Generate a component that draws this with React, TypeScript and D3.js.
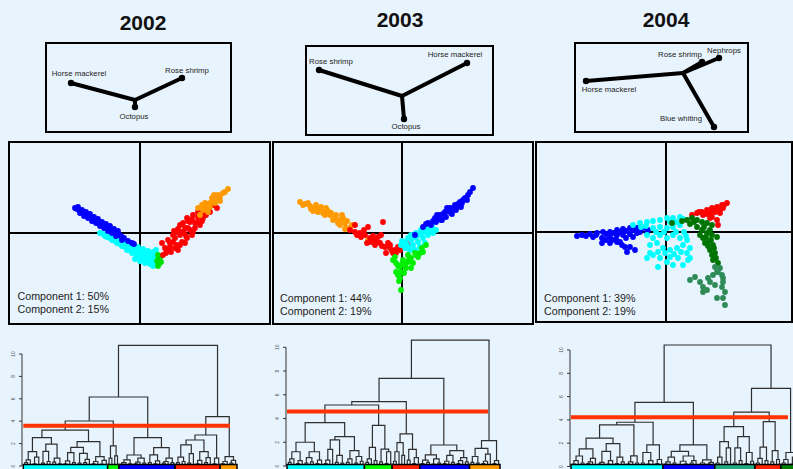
import React from "react";
import * as d3 from "d3";

// ---------------- DATA ----------------
const years = ["2002", "2003", "2004"];
const comp1 = [50, 44, 39];
const comp2 = [15, 19, 19];

// Loadings (biplot arrows) per year
const load2002 = [
  { name: "Horse mackerel", x: -0.64, y: 0.17 },
  { name: "Rose shrimp", x: 0.47, y: 0.22 },
  { name: "Octopus", x: 0.0, y: -0.07 },
];
const load2003 = [
  { name: "Rose shrimp", x: -0.83, y: 0.26 },
  { name: "Horse mackerel", x: 0.65, y: 0.33 },
  { name: "Octopus", x: 0.02, y: -0.23 },
];
const load2004 = [
  { name: "Horse mackerel", x: -0.97, y: -0.08 },
  { name: "Rose shrimp", x: 0.19, y: 0.11 },
  { name: "Nephrops", x: 0.36, y: 0.15 },
  { name: "Blue whiting", x: 0.31, y: -0.54 },
];

// PCA scores (Component 1, Component 2) per cluster
const s2002Cyan: [number, number][] = [
  [-0.4, 0.0], [-0.35, -0.03], [-0.3, -0.05], [-0.25, -0.08], [-0.2, -0.11], [-0.15, -0.14], [-0.1, -0.17], [-0.05, -0.2], [0.0, -0.22], [0.05, -0.24], [0.1, -0.26], [0.15, -0.28],
  [-0.32, 0.01], [-0.27, -0.02], [-0.22, -0.05], [-0.17, -0.07], [-0.12, -0.1], [-0.07, -0.12], [-0.02, -0.14], [0.03, -0.16], [0.08, -0.18], [0.13, -0.19], [0.16, -0.17],
  [-0.28, -0.07], [-0.23, -0.1], [-0.18, -0.13], [-0.13, -0.17], [-0.08, -0.2], [-0.03, -0.23], [0.02, -0.26], [0.07, -0.29], [0.12, -0.3], [0.16, -0.32],
  [-0.37, -0.01], [-0.33, -0.04], [-0.29, -0.02], [-0.2, -0.08], [-0.15, -0.1], [-0.1, -0.13], [-0.05, -0.16], [0.0, -0.18], [0.05, -0.2], [0.1, -0.22], [0.14, -0.24], [-0.25, -0.05], [-0.05, -0.26], [0.0, -0.28], [0.05, -0.3], [0.1, -0.31], [0.13, -0.33],
];
const s2002Blue: [number, number][] = [
  [-0.65, 0.25], [-0.63, 0.24], [-0.61, 0.23], [-0.59, 0.21], [-0.57, 0.21], [-0.55, 0.19], [-0.53, 0.18], [-0.51, 0.17], [-0.49, 0.15], [-0.47, 0.14], [-0.45, 0.13], [-0.43, 0.12], [-0.41, 0.11], [-0.39, 0.09], [-0.37, 0.08], [-0.35, 0.07], [-0.33, 0.05], [-0.31, 0.04], [-0.29, 0.03], [-0.27, 0.02], [-0.25, 0.0], [-0.23, -0.01], [-0.21, -0.02], [-0.19, -0.03],
  [-0.62, 0.26], [-0.58, 0.23], [-0.54, 0.21], [-0.5, 0.19], [-0.46, 0.16], [-0.42, 0.14], [-0.38, 0.11], [-0.34, 0.09], [-0.3, 0.07], [-0.26, 0.04], [-0.22, 0.02],
  [-0.6, 0.2], [-0.56, 0.17], [-0.52, 0.15], [-0.48, 0.12], [-0.44, 0.1], [-0.4, 0.07], [-0.36, 0.05], [-0.32, 0.02], [-0.28, 0.0], [-0.24, -0.03],
  [-0.16, -0.05], [-0.12, -0.08], [-0.08, -0.1], [-0.06, -0.11], [-0.18, -0.07],
];
const s2002Green: [number, number][] = [
  [0.18, -0.22], [0.19, -0.25], [0.2, -0.28], [0.19, -0.31], [0.18, -0.33], [0.21, -0.23], [0.21, -0.29], [0.17, -0.28],
];
const s2002Red: [number, number][] = [
  [0.22, -0.1], [0.27, -0.17], [0.33, -0.02], [0.4, 0.08], [0.47, 0.15], [0.53, 0.18], [0.6, 0.2], [0.67, 0.25], [0.73, 0.28], [0.77, 0.25], [0.37, -0.12], [0.47, -0.05], [0.53, 0.01], [0.6, 0.08], [0.3, -0.14], [0.23, -0.22], [0.42, 0.01], [0.48, 0.05], [0.57, 0.11], [0.63, 0.15], [0.52, -0.02], [0.45, -0.1], [0.37, 0.01], [0.33, -0.09], [0.5, 0.11], [0.58, 0.16], [0.42, -0.09], [0.38, -0.17], [0.25, -0.15], [0.28, -0.07], [0.55, 0.05], [0.45, 0.05], [0.65, 0.2], [0.7, 0.21],
  [0.3, -0.1], [0.35, -0.05], [0.4, -0.02], [0.44, 0.0], [0.5, 0.03], [0.55, 0.1], [0.62, 0.12], [0.66, 0.18], [0.4, -0.12], [0.35, -0.15], [0.31, -0.19], [0.26, -0.2], [0.43, 0.1], [0.38, 0.04], [0.48, 0.12], [0.52, 0.14], [0.58, 0.21], [0.68, 0.28], [0.34, 0.02], [0.46, -0.03],
];
const s2002Orange: [number, number][] = [
  [0.58, 0.25], [0.6, 0.18], [0.63, 0.23], [0.67, 0.26], [0.7, 0.3], [0.73, 0.31], [0.77, 0.35], [0.8, 0.36], [0.83, 0.4], [0.88, 0.44], [0.65, 0.3], [0.72, 0.35], [0.78, 0.38], [0.68, 0.21], [0.62, 0.28], [0.7, 0.26], [0.75, 0.3], [0.8, 0.32], [0.85, 0.41], [0.74, 0.38],
];

const s2003Orange: [number, number][] = [
  [-1.02, 0.31], [-0.97, 0.29], [-0.92, 0.27], [-0.87, 0.25], [-0.82, 0.23], [-0.77, 0.21], [-0.72, 0.18], [-0.67, 0.15], [-0.62, 0.13], [-0.57, 0.1], [-0.52, 0.05], [-0.81, 0.26], [-0.76, 0.25], [-0.71, 0.2], [-0.66, 0.18], [-0.59, 0.15], [-0.91, 0.24], [-0.84, 0.21], [-0.77, 0.18], [-0.69, 0.13], [-0.62, 0.08], [-0.56, 0.05], [-0.42, -0.02], [-0.34, -0.07],
  [-0.99, 0.28], [-0.94, 0.3], [-0.89, 0.22], [-0.86, 0.28], [-0.79, 0.2], [-0.74, 0.22], [-0.64, 0.1], [-0.6, 0.18], [-0.55, 0.12], [-0.5, 0.08], [-0.57, 0.04],
];
const s2003Red: [number, number][] = [
  [-0.52, 0.03], [-0.47, 0.01], [-0.42, 0.0], [-0.37, -0.02], [-0.32, -0.05], [-0.27, -0.07], [-0.22, -0.1], [-0.17, -0.14], [-0.12, -0.15], [-0.07, -0.17], [-0.02, -0.17], [-0.01, -0.14], [-0.47, 0.08], [-0.34, 0.06], [-0.19, 0.11], [-0.21, -0.02], [-0.27, -0.12], [-0.16, -0.2], [-0.09, -0.2], [-0.41, -0.04], [-0.31, -0.09], [-0.24, -0.04], [-0.14, -0.1], [-0.06, -0.2], [0.04, -0.09], [0.06, -0.12],
  [-0.45, -0.02], [-0.38, 0.03], [-0.35, -0.1], [-0.29, -0.03], [-0.25, -0.09], [-0.2, -0.13], [-0.12, -0.12], [-0.1, -0.18], [-0.04, -0.14],
];
const s2003Cyan: [number, number][] = [
  [-0.01, -0.12], [0.03, -0.09], [0.06, -0.05], [0.09, -0.02], [0.14, 0.0], [0.19, 0.03], [0.24, 0.05], [0.29, 0.05], [0.34, 0.03], [0.06, -0.15], [0.11, -0.12], [0.16, -0.09], [0.21, -0.05], [0.26, -0.02], [0.31, 0.0], [0.13, -0.17], [0.18, -0.14], [0.23, -0.1], [0.09, -0.07], [0.14, -0.04], [0.19, -0.01], [0.24, 0.01], [0.03, -0.15],
  [0.0, -0.08], [0.05, -0.12], [0.11, -0.05], [0.16, -0.02], [0.21, 0.01], [0.27, 0.03], [0.3, 0.07], [0.08, -0.17],
];
const s2003Blue: [number, number][] = [
  [0.21, 0.06], [0.26, 0.1], [0.31, 0.12], [0.36, 0.15], [0.41, 0.19], [0.46, 0.22], [0.51, 0.25], [0.56, 0.29], [0.61, 0.33], [0.66, 0.38], [0.71, 0.45], [0.68, 0.41], [0.29, 0.08], [0.34, 0.11], [0.39, 0.13], [0.44, 0.16], [0.49, 0.2], [0.54, 0.23], [0.59, 0.26], [0.33, 0.15], [0.38, 0.18], [0.43, 0.21], [0.48, 0.25], [0.53, 0.28], [0.58, 0.31], [0.63, 0.35], [0.13, -0.02],
  [0.24, 0.09], [0.35, 0.18], [0.45, 0.25], [0.55, 0.26], [0.4, 0.13], [0.5, 0.19], [0.6, 0.3], [0.65, 0.33],
];
const s2003Green: [number, number][] = [
  [-0.09, -0.27], [-0.06, -0.3], [-0.02, -0.34], [-0.01, -0.39], [-0.02, -0.45], [-0.01, -0.57], [0.03, -0.32], [0.06, -0.29], [0.09, -0.25], [0.14, -0.22], [0.21, -0.19], [0.24, -0.12], [0.04, -0.35], [0.09, -0.35], [-0.06, -0.39], [-0.04, -0.42], [0.01, -0.27], [0.06, -0.22], [0.13, -0.2], [-0.07, -0.24], [0.18, -0.2],
  [-0.04, -0.33], [0.0, -0.31], [0.07, -0.27], [0.11, -0.3], [0.02, -0.4], [-0.03, -0.48], [0.16, -0.24], [0.2, -0.15],
];

const s2004Blue: [number, number][] = [
  [-0.89, -0.04], [-0.84, -0.03], [-0.76, -0.02], [-0.69, -0.01], [-0.63, 0.0], [-0.56, 0.0], [-0.49, 0.02], [-0.43, 0.03], [-0.36, 0.04], [-0.29, 0.04], [-0.23, 0.04], [-0.18, 0.02], [-0.73, -0.05], [-0.64, -0.06], [-0.56, -0.05], [-0.49, -0.03], [-0.43, -0.03], [-0.36, -0.02], [-0.29, -0.01], [-0.64, -0.11], [-0.56, -0.11], [-0.49, -0.1], [-0.44, -0.13], [-0.39, -0.2], [-0.36, -0.15], [-0.31, -0.18], [-0.54, -0.08], [-0.26, 0.0], [-0.19, -0.01],
  [-0.8, -0.04], [-0.7, -0.03], [-0.6, -0.02], [-0.52, -0.01], [-0.46, 0.0], [-0.4, 0.01], [-0.33, 0.02], [-0.6, -0.08], [-0.5, -0.07], [-0.4, -0.06], [-0.33, -0.05], [-0.46, -0.1], [-0.41, -0.15],
];
const s2004Cyan: [number, number][] = [
  [-0.33, 0.07], [-0.26, 0.09], [-0.19, 0.1], [-0.13, 0.11], [-0.06, 0.12], [0.01, 0.14], [0.07, 0.14], [0.14, 0.15], [0.17, 0.13], [-0.13, 0.04], [-0.06, 0.05], [0.01, 0.04], [0.07, 0.05], [0.14, 0.07], [-0.19, -0.03], [-0.13, -0.06], [-0.06, -0.03], [0.01, -0.06], [0.07, -0.03], [0.14, -0.06], [0.21, -0.08], [-0.16, -0.13], [-0.09, -0.11], [-0.03, -0.16], [0.04, -0.18], [0.11, -0.16], [0.17, -0.13], [0.24, -0.16], [-0.19, -0.26], [-0.13, -0.23], [-0.06, -0.26], [-0.08, -0.35], [0.01, -0.3], [0.07, -0.33], [0.17, -0.33], [0.22, -0.28], [0.12, -0.26], [0.04, -0.25], [-0.01, -0.21], [0.21, -0.21], [0.24, -0.26], [-0.16, -0.21],
  [-0.25, 0.05], [-0.2, 0.06], [0.04, 0.1], [0.1, 0.1], [-0.1, 0.0], [-0.02, 0.0], [0.1, 0.0], [0.18, 0.0], [-0.08, -0.2], [0.08, -0.22], [0.15, -0.2], [0.2, -0.04],
];
const s2004Red: [number, number][] = [
  [0.26, 0.17], [0.31, 0.19], [0.36, 0.2], [0.41, 0.22], [0.46, 0.24], [0.51, 0.25], [0.56, 0.27], [0.61, 0.29], [0.37, 0.17], [0.44, 0.19], [0.49, 0.2], [0.54, 0.22], [0.46, 0.15], [0.51, 0.12], [0.52, 0.07], [0.44, 0.14], [0.57, 0.24],
  [0.33, 0.2], [0.4, 0.18], [0.48, 0.22], [0.58, 0.27], [0.54, 0.19],
];
const s2004DarkGreen: [number, number][] = [
  [0.16, 0.11], [0.21, 0.12], [0.26, 0.14], [0.31, 0.12], [0.36, 0.1], [0.41, 0.09], [0.46, 0.07], [0.31, 0.05], [0.36, 0.02], [0.41, -0.01], [0.46, -0.03], [0.37, -0.06], [0.42, -0.1], [0.47, -0.13], [0.44, -0.18], [0.49, -0.21], [0.47, -0.28], [0.52, -0.31], [0.39, -0.11], [0.51, -0.05], [0.06, 0.09], [0.24, 0.08], [0.34, -0.03], [0.46, -0.23],
  [0.28, 0.1], [0.38, 0.05], [0.44, 0.02], [0.4, -0.05], [0.45, -0.08], [0.48, -0.16], [0.42, -0.14], [0.5, -0.26],
];
const s2004SeaGreen: [number, number][] = [
  [0.24, -0.48], [0.29, -0.45], [0.34, -0.5], [0.37, -0.55], [0.41, -0.58], [0.44, -0.5], [0.49, -0.53], [0.47, -0.43], [0.51, -0.4], [0.54, -0.36], [0.56, -0.43], [0.57, -0.5], [0.56, -0.55], [0.59, -0.6], [0.57, -0.66], [0.59, -0.73], [0.51, -0.66], [0.52, -0.4], [0.49, -0.35], [0.37, -0.6], [0.42, -0.46], [0.57, -0.46],
];

// Dendrograms (binary trees, "o" = observation, number after ")" = merge height)
const d02CyA1 = "(((o,o)0.3,o)0.55,((o,o)0.2,o)0.8)1.28";
const d02CyA2 = "(((o,o)0.25,(o,o)0.4)1.3,((o,o)0.35,(o,o)0.2)0.7)1.96";
const d02CyB1a = "(((o,o)0.2,o)0.45,(o,o)0.3)1.19";
const d02CyB1b = "((o,o)0.25,((o,o)0.3,o)0.6)1.13";
const d02CyB2 = "(((o,o)0.2,o)0.4,((o,o)0.15,o)0.5)0.83";
const d02Cyan = `((${d02CyA1},${d02CyA2})2.53,((${d02CyB1a},${d02CyB1b})1.67,${d02CyB2})2.17)3.21`;
const d02Green = "((o,o)0.7,(o,o)0.9)1.79";
const d02Bl1 = "((((o,o)0.15,o)0.3,(o,o)0.2)0.55,(((o,o)0.2,o)0.35,(o,o)0.25)0.7)0.98";
const d02Bl2 = "(((o,o)0.3,((o,o)0.2,o)0.45)1.0,(((o,o)0.25,o)0.4,(o,o)0.3)0.7)1.64";
const d02Blue = `(${d02Bl1},${d02Bl2})2.53`;
const d02R1a = "(((o,o)0.3,(o,o)0.4)0.8,((o,o)0.25,o)1.1)1.88";
const d02R1b = "(((o,o)0.2,o)0.5,((o,o)0.3,o)0.75)1.28";
const d02R2 = "((o,o)0.2,o)0.7";
const d02Red = `((${d02R1a},${d02R1b})2.32,${d02R2})2.77`;
const d02Orange = "(((o,o)0.2,o)0.4,((o,o)0.25,o)0.5)0.83";

const d03C1a = "(((o,o)0.3,o)0.6,((o,o)0.2,o)0.45)1.2";
const d03C1b = "(((o,o)0.25,(o,o)0.35)0.7,((o,o)0.2,o)0.5)1.2";
const d03C2a = "((((o,o)0.2,o)0.5,o)1.4,((o,o)0.3,(o,o)0.25)0.9)2.2";
const d03C2b = "(((o,o)0.3,o)0.6,((o,o)0.25,(o,o)0.4)0.8)1.3";
const d03Cyan = `((${d03C1a},${d03C1b})2.0,(${d03C2a},${d03C2b})2.47)3.65`;
const d03G1 = "(((o,o)0.3,o)0.6,(o,o)0.45)1.57";
const d03G2 = "((o,o)0.35,((o,o)0.2,o)1.2)1.43";
const d03Green = `(${d03G1},${d03G2})3.43`;
const d03Rd1 = "(((o,o)0.4,o)1.2,(o,o)0.9)1.97";
const d03Rd2 = "((o,o)0.5,((o,o)0.2,o)0.7)1.4";
const d03Red = `(${d03Rd1},${d03Rd2})2.7`;
const d03B1 = "(((o,o)0.2,(o,o)0.3)0.5,((o,o)0.15,(o,o)0.25)0.6)0.93";
const d03B2 = "((((o,o)0.2,o)0.4,(o,o)0.3)0.9,(((o,o)0.2,o)0.45,(o,o)0.35)0.7)1.29";
const d03Blue = `(${d03B1},${d03B2})1.77`;
const d03O1 = "(((o,o)0.3,(o,o)0.25)0.8,(((o,o)0.2,o)0.4,o)1.0)1.49";
const d03O2 = "((o,o)0.2,o)0.45";
const d03Orange = `(${d03O1},${d03O2})2.13`;

const d04Cy1a1 = "((((o,o)0.2,o)0.5,(o,o)0.3)0.9,(((o,o)0.25,o)0.4,o)0.7)1.51";
const d04Cy1a2 = "((((o,o)0.2,o)0.35,((o,o)0.2,o)0.5)1.3,((o,o)0.25,(o,o)0.4)0.8)1.97";
const d04Cy1b = "(((o,o)0.2,o)0.4,(o,o)0.3)0.91";
const d04Cy2 = "(((o,o)0.3,((o,o)0.2,o)0.5)1.2,((o,o)0.25,o)0.6)1.86";
const d04Cyan = `(((${d04Cy1a1},${d04Cy1a2})2.43,${d04Cy1b})3.57,${d04Cy2})3.8`;
const d04Bu1 = "((((o,o)0.2,o)0.4,(o,o)0.3)0.8,(((o,o)0.15,(o,o)0.2)0.45,((o,o)0.3,o)0.5)0.9)1.29";
const d04Bu2 = "(((o,o)0.15,o)0.3,((o,o)0.2,o)0.35)0.57";
const d04Blue = `(${d04Bu1},${d04Bu2})1.86`;
const d04S1 = "(((o,o)0.3,o)0.8,((o,o)0.4,o)1.6)2.14";
const d04S2 = "(((o,o)0.3,(o,o)0.5)1.6,((o,o)0.25,(o,o)0.45)1.2)2.57";
const d04SeaGreen = `(${d04S1},${d04S2})3.43`;
const d04Rr1 = "(((o,o)0.3,o)0.7,(o,o)0.5)1.66";
const d04Rr2 = "((o,o)0.4,(o,o)0.6)1.37";
const d04Red = `(${d04Rr1},${d04Rr2})3.86`;
const d04DarkGreen = "(((o,o)0.3,o)0.6,((o,o)0.2,(o,o)0.4)0.8)1.2";

const tree2002 = `(((${d02Cyan},${d02Green})4.02,${d02Blue})6.16,(${d02Red},${d02Orange})4.4)10.77`;
const tree2003 = `((((${d03Cyan},${d03Green})5.14,${d03Red})5.42,${d03Blue})7.39,${d03Orange})10.6`;
const tree2004 = `((${d04Cyan},${d04Blue})5.51,((${d04SeaGreen},${d04Red})4.66,${d04DarkGreen})6.71)10.43`;

const cutHeights = [3.6, 4.6, 4.23];
const yTicks = [0, 2, 4, 6, 8, 10];

// ---------------- STYLE / LAYOUT ----------------
const W = 793;
const H = 469;
const BG = "#e8f4fd";
const FONT = "'Liberation Sans', Arial, Helvetica, sans-serif";

const scatterSets = [
  [
    { c: "#00ffff", p: s2002Cyan },
    { c: "#0000ff", p: s2002Blue },
    { c: "#00dd00", p: s2002Green },
    { c: "#ff0000", p: s2002Red },
    { c: "#ff9900", p: s2002Orange },
  ],
  [
    { c: "#ff9900", p: s2003Orange },
    { c: "#ff0000", p: s2003Red },
    { c: "#00ffff", p: s2003Cyan },
    { c: "#0000ff", p: s2003Blue },
    { c: "#00ee00", p: s2003Green },
  ],
  [
    { c: "#0000ff", p: s2004Blue },
    { c: "#00ffff", p: s2004Cyan },
    { c: "#ff0000", p: s2004Red },
    { c: "#007400", p: s2004DarkGreen },
    { c: "#2e8b57", p: s2004SeaGreen },
  ],
];
const barColors = [
  ["#00ffff", "#00ff00", "#0000ff", "#ff2200", "#ff9900"],
  ["#00ffff", "#00ff00", "#ff2200", "#0000ff", "#ff9900"],
  ["#00ffff", "#0000ff", "#22aa80", "#ff2200", "#008000"],
];
const loadings = [load2002, load2003, load2004];
const trees = [tree2002, tree2003, tree2004];

const layout = [
  {
    title: { x: 143, y: 30 },
    box: { x0: 46, x1: 231, y0: 43, y1: 132, jx: 135, jy: 100 },
    lab: [[8, -7], [5, -5], [-1, 12]],
    sc: { x0: 9, x1: 270, y0: 142, y1: 324, cx: 140, cy: 233 },
    txt: { x: 17.5, y: 300 },
    dn: { ax: 22, lx0: 23.3, lx1: 237, y0: 466, y10: 354, thrX1: 230, labX: 15 },
  },
  {
    title: { x: 400, y: 27 },
    box: { x0: 306, x1: 493, y0: 46, y1: 135, jx: 402, jy: 96 },
    lab: [[12, -6], [-12, -6], [2, 10]],
    sc: { x0: 273, x1: 533, y0: 142, y1: 324, cx: 402, cy: 233 },
    txt: { x: 280, y: 302 },
    dn: { ax: 286, lx0: 287, lx1: 500, y0: 466, y10: 347.3, thrX1: 488, labX: 278.5 },
  },
  {
    title: { x: 666, y: 27 },
    box: { x0: 575, x1: 748, y0: 43, y1: 132, jx: 683, jy: 73 },
    lab: [[23, 11], [-22, -5], [5, -5], [-33, -6]],
    sc: { x0: 536, x1: 792, y0: 142, y1: 322, cx: 666, cy: 232 },
    txt: { x: 544, y: 302 },
    dn: { ax: 570, lx0: 571, lx1: 801, y0: 466.5, y10: 350, thrX1: 788, labX: 562.5 },
  },
];

// ---------------- TREE HELPERS ----------------
type TNode = { h: number; children?: TNode[]; x?: number; first?: number; last?: number };

function parseTree(s: string): TNode {
  const str = s.replace(/\s+/g, "");
  let i = 0;
  function node(): TNode {
    if (str[i] === "(") {
      i++;
      const l = node();
      i++; // ','
      const r = node();
      i++; // ')'
      const j = i;
      while (i < str.length && /[0-9.]/.test(str[i])) i++;
      return { h: parseFloat(str.slice(j, i)), children: [l, r] };
    }
    i++; // 'o'
    return { h: 0 };
  }
  return node();
}

function layoutTree(root: TNode) {
  let idx = 0;
  function walk(n: TNode) {
    if (!n.children) {
      n.first = idx;
      n.last = idx;
      n.x = idx + 0.5;
      idx++;
      return;
    }
    n.children.forEach(walk);
    n.first = n.children[0].first;
    n.last = n.children[1].last;
    n.x = (n.children[0].x! + n.children[1].x!) / 2;
  }
  walk(root);
  return idx;
}

function Dendro({ k }: { k: number }) {
  const L = layout[k].dn;
  const root = parseTree(trees[k]);
  const n = layoutTree(root);
  const x = d3.scaleLinear().domain([0, n]).range([L.lx0, L.lx1]);
  const y = d3.scaleLinear().domain([0, 10]).range([L.y0, L.y10]);
  const path = d3.path();
  const clusters: TNode[] = [];
  function walk(nd: TNode) {
    if (!nd.children) return;
    const [a, b] = nd.children;
    path.moveTo(x(a.x!), y(a.h));
    path.lineTo(x(a.x!), y(nd.h));
    path.lineTo(x(b.x!), y(nd.h));
    path.lineTo(x(b.x!), y(b.h));
    walk(a);
    walk(b);
  }
  walk(root);
  function cut(nd: TNode) {
    if (nd.h < cutHeights[k] || !nd.children) {
      clusters.push(nd);
      return;
    }
    nd.children.forEach(cut);
  }
  cut(root);
  return (
    <g>
      <line x1={L.ax} x2={L.ax} y1={y(0)} y2={y(10)} stroke="#333" strokeWidth={1} />
      {yTicks.map((t) => (
        <g key={t}>
          <line x1={L.ax - 3} x2={L.ax} y1={y(t)} y2={y(t)} stroke="#333" strokeWidth={1} />
          <text
            transform={`translate(${L.labX},${y(t)}) rotate(-90)`}
            textAnchor="middle"
            fontSize={5}
            fill="#555"
            fontFamily={FONT}
          >
            {t}
          </text>
        </g>
      ))}
      <path d={path.toString()} fill="none" stroke="#1a1a1a" strokeWidth={1.2} strokeOpacity={0.9} />
      <line
        x1={L.lx0}
        x2={L.thrX1}
        y1={y(cutHeights[k])}
        y2={y(cutHeights[k])}
        stroke="#ff3300"
        strokeWidth={4}
      />
      {clusters.map((c, i) => (
        <rect
          key={i}
          x={x(c.first!)}
          y={464.5}
          width={x(c.last! + 1) - x(c.first!)}
          height={8}
          fill={barColors[k][i]}
          stroke="#000"
          strokeWidth={1.5}
        />
      ))}
    </g>
  );
}

function Biplot({ k }: { k: number }) {
  const B = layout[k].box;
  const lx = d3.scaleLinear().domain([-1, 1]).range([B.jx - 100, B.jx + 100]);
  const ly = d3.scaleLinear().domain([-1, 1]).range([B.jy + 100, B.jy - 100]);
  return (
    <g>
      <rect x={B.x0} y={B.y0} width={B.x1 - B.x0} height={B.y1 - B.y0} fill={BG} stroke="#000" strokeWidth={2} />
      {loadings[k].map((d, i) => (
        <g key={d.name}>
          <line x1={lx(0)} y1={ly(0)} x2={lx(d.x)} y2={ly(d.y)} stroke="#000" strokeWidth={4} />
          <circle cx={lx(d.x)} cy={ly(d.y)} r={3.2} fill="#000" />
          <text
            x={lx(d.x) + layout[k].lab[i][0]}
            y={ly(d.y) + layout[k].lab[i][1]}
            textAnchor="middle"
            fontSize={7.8}
            fill="#222"
            fontFamily={FONT}
          >
            {d.name}
          </text>
        </g>
      ))}
    </g>
  );
}

function Scatter({ k }: { k: number }) {
  const S = layout[k].sc;
  const sx = d3.scaleLinear().domain([-1, 1]).range([S.cx - 100, S.cx + 100]);
  const sy = d3.scaleLinear().domain([-1, 1]).range([S.cy + 100, S.cy - 100]);
  const T = layout[k].txt;
  return (
    <g>
      <rect x={S.x0} y={S.y0} width={S.x1 - S.x0} height={S.y1 - S.y0} fill={BG} stroke="#000" strokeWidth={2} />
      <line x1={S.x0} x2={S.x1} y1={sy(0)} y2={sy(0)} stroke="#000" strokeWidth={2} />
      <line x1={sx(0)} x2={sx(0)} y1={S.y0} y2={S.y1} stroke="#000" strokeWidth={2} />
      {scatterSets[k].map((g, gi) => (
        <g key={gi} fill={g.c}>
          {g.p.map((p, pi) => (
            <circle key={pi} cx={sx(p[0])} cy={sy(p[1])} r={2.9} />
          ))}
        </g>
      ))}
      <text x={T.x} y={T.y} fontSize={10.7} fill="#222" fontFamily={FONT}>
        {`Component 1: ${comp1[k]}%`}
      </text>
      <text x={T.x} y={T.y + 12.5} fontSize={10.7} fill="#222" fontFamily={FONT}>
        {`Component 2: ${comp2[k]}%`}
      </text>
    </g>
  );
}

export default function App() {
  React.useEffect(() => {
    document.body.style.margin = "0";
  }, []);
  return (
    <svg
      width={W}
      height={H}
      viewBox={`0 0 ${W} ${H}`}
      style={{ position: "absolute", left: 0, top: 0, display: "block" }}
    >
      <rect x={0} y={0} width={W} height={H} fill={BG} />
      {years.map((yr, k) => (
        <g key={yr}>
          <text
            x={layout[k].title.x}
            y={layout[k].title.y}
            textAnchor="middle"
            fontSize={21}
            fontWeight="bold"
            fill="#111"
            fontFamily={FONT}
          >
            {yr}
          </text>
          <Biplot k={k} />
          <Scatter k={k} />
          <Dendro k={k} />
        </g>
      ))}
    </svg>
  );
}
